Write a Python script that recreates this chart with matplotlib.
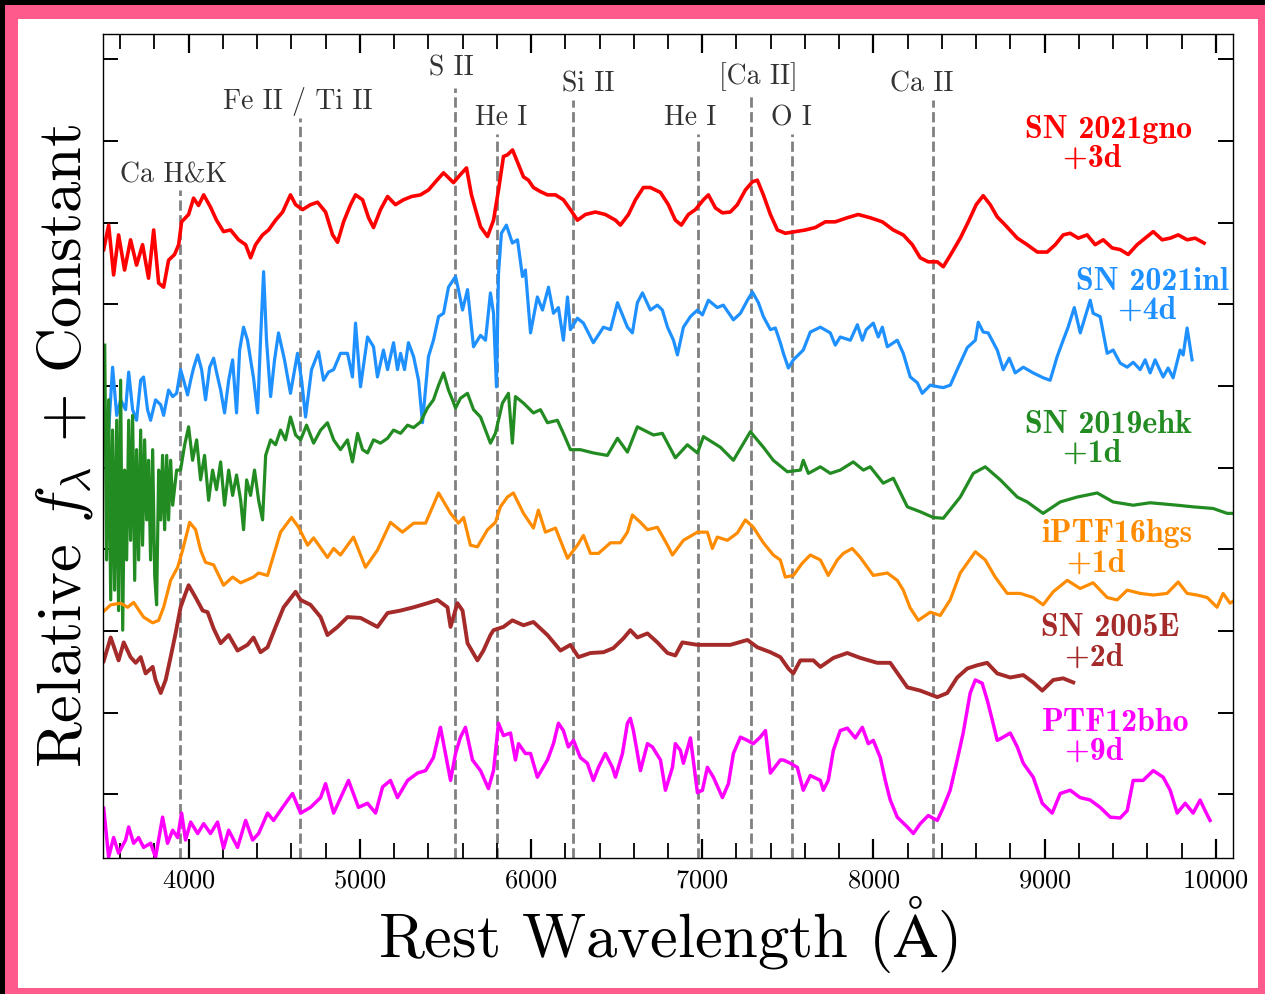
import numpy as np
import matplotlib.pyplot as plt
from matplotlib.patches import Rectangle

plt.rcParams['font.family'] = 'cmr10'
plt.rcParams['mathtext.fontset'] = 'cm'
plt.rcParams['axes.formatter.use_mathtext'] = True
plt.rcParams['axes.unicode_minus'] = False

# --- spectra (rest wavelength in Angstrom, relative flux + constant) ---
gno_wave = [3504, 3533, 3562, 3591, 3626, 3661, 3696, 3731, 3766, 3796, 3825, 3854, 3883, 3918, 3942,
            3959, 4000, 4029, 4058, 4088, 4128, 4163, 4204, 4245, 4292, 4333, 4362, 4391, 4432, 4467,
            4508, 4549, 4595, 4625, 4666, 4712, 4753, 4800, 4841, 4870, 4905, 4946, 4975, 5016, 5051,
            5080, 5121, 5162, 5208, 5255, 5302, 5354, 5401, 5442, 5489, 5518, 5547, 5588, 5623, 5652,
            5676, 5705, 5746, 5781, 5810, 5839, 5862, 5892, 5921, 5956, 5985, 6014, 6055, 6096, 6143,
            6189, 6230, 6271, 6318, 6376, 6434, 6493, 6522, 6569, 6610, 6656, 6697, 6756, 6802, 6843,
            6878, 6919, 6960, 7007, 7036, 7077, 7118, 7164, 7205, 7252, 7293, 7322, 7357, 7398, 7439,
            7485, 7544, 7602, 7660, 7719, 7777, 7847, 7911, 7981, 8052, 8116, 8174, 8227, 8273, 8320,
            8373, 8408, 8460, 8507, 8554, 8600, 8641, 8682, 8723, 8770, 8840, 8898, 8957, 9015, 9062,
            9108, 9149, 9196, 9248, 9295, 9342, 9394, 9441, 9488, 9540, 9587, 9634, 9686, 9733, 9780,
            9832, 9879, 9931]
gno_flux = [6.67, 6.97, 6.36, 6.85, 6.42, 6.79, 6.48, 6.73, 6.32, 6.91, 6.26, 6.21, 6.54, 6.61, 6.73,
            7.01, 7.10, 7.30, 7.21, 7.34, 7.19, 7.03, 6.89, 6.91, 6.79, 6.73, 6.57, 6.73, 6.85, 6.91,
            7.03, 7.13, 7.34, 7.22, 7.16, 7.22, 7.25, 7.13, 6.85, 6.76, 7.01, 7.22, 7.34, 7.28, 7.06,
            6.94, 7.16, 7.32, 7.22, 7.28, 7.32, 7.34, 7.40, 7.50, 7.61, 7.55, 7.49, 7.59, 7.67, 7.34,
            7.16, 6.95, 6.83, 7.03, 7.40, 7.81, 7.83, 7.89, 7.74, 7.56, 7.52, 7.43, 7.38, 7.34, 7.34,
            7.28, 7.16, 7.03, 7.10, 7.13, 7.10, 7.03, 6.97, 7.10, 7.28, 7.43, 7.43, 7.37, 7.22, 7.03,
            6.97, 7.10, 7.16, 7.28, 7.34, 7.18, 7.12, 7.13, 7.22, 7.40, 7.50, 7.52, 7.34, 7.10, 6.91,
            6.87, 6.89, 6.91, 6.94, 7.01, 7.01, 7.06, 7.10, 7.06, 7.01, 6.91, 6.85, 6.73, 6.57, 6.52,
            6.52, 6.46, 6.64, 6.81, 7.01, 7.22, 7.33, 7.22, 7.07, 6.97, 6.81, 6.73, 6.64, 6.64, 6.73,
            6.85, 6.87, 6.81, 6.85, 6.73, 6.79, 6.69, 6.67, 6.61, 6.73, 6.81, 6.89, 6.79, 6.81, 6.85,
            6.79, 6.81, 6.75]

inl_wave = [3533, 3556, 3580, 3603, 3632, 3650, 3673, 3696, 3720, 3737, 3760, 3778, 3807, 3837, 3854,
            3883, 3907, 3930, 3953, 3971, 3994, 4012, 4029, 4053, 4076, 4099, 4123, 4146, 4163, 4187,
            4210, 4234, 4257, 4280, 4298, 4321, 4344, 4362, 4379, 4403, 4420, 4438, 4455, 4479, 4502,
            4525, 4560, 4595, 4636, 4660, 4683, 4718, 4759, 4788, 4817, 4847, 4887, 4928, 4957, 4975,
            5004, 5045, 5080, 5103, 5138, 5162, 5197, 5220, 5238, 5261, 5284, 5314, 5343, 5366, 5401,
            5430, 5460, 5489, 5518, 5559, 5576, 5600, 5629, 5664, 5705, 5734, 5763, 5781, 5798, 5810,
            5827, 5856, 5891, 5921, 5950, 5967, 5997, 6037, 6067, 6102, 6131, 6160, 6189, 6213, 6230,
            6271, 6306, 6364, 6423, 6464, 6505, 6563, 6592, 6621, 6651, 6697, 6738, 6767, 6797, 6832,
            6855, 6890, 6931, 6972, 7001, 7036, 7088, 7123, 7182, 7223, 7264, 7293, 7328, 7357, 7398,
            7427, 7456, 7474, 7503, 7532, 7590, 7631, 7690, 7748, 7777, 7806, 7865, 7906, 7935, 7958,
            7999, 8028, 8052, 8081, 8139, 8174, 8215, 8256, 8285, 8332, 8378, 8408, 8449, 8489, 8548,
            8595, 8612, 8641, 8670, 8723, 8758, 8793, 8828, 8875, 8933, 8992, 9032, 9073, 9108, 9137,
            9173, 9208, 9266, 9283, 9324, 9365, 9400, 9441, 9482, 9517, 9558, 9587, 9616, 9645, 9692,
            9721, 9750, 9791, 9809, 9832, 9861]
inl_flux = [4.46, 5.23, 4.64, 4.83, 4.71, 5.17, 4.71, 4.58, 5.07, 5.11, 4.71, 4.58, 4.83, 4.77, 4.64,
            4.95, 4.87, 4.91, 5.20, 5.07, 4.89, 5.07, 5.22, 5.38, 5.20, 4.83, 5.23, 5.34, 5.17, 4.95,
            4.67, 5.07, 5.32, 4.67, 5.44, 5.72, 5.56, 5.32, 5.10, 4.67, 5.56, 6.40, 5.56, 4.87, 5.32,
            5.65, 5.32, 4.91, 5.40, 5.07, 4.62, 5.20, 5.42, 5.07, 5.17, 5.20, 5.40, 5.40, 5.11, 5.77,
            4.99, 5.60, 5.48, 5.11, 5.44, 5.20, 5.53, 5.20, 5.40, 5.20, 5.53, 5.36, 5.07, 4.55, 5.36,
            5.56, 5.85, 5.89, 6.21, 6.34, 6.18, 5.93, 6.18, 5.48, 5.62, 5.56, 6.14, 5.89, 4.99, 6.38,
            6.87, 6.97, 6.75, 6.79, 6.34, 6.42, 5.65, 6.09, 5.93, 6.21, 5.89, 5.96, 5.56, 6.09, 5.69,
            5.83, 5.77, 5.53, 5.72, 5.69, 6.02, 5.72, 5.65, 6.02, 6.14, 5.93, 5.99, 5.93, 5.72, 5.56,
            5.38, 5.72, 5.85, 5.93, 5.87, 6.05, 5.96, 5.99, 5.81, 5.89, 6.05, 6.15, 6.02, 5.85, 5.69,
            5.71, 5.53, 5.40, 5.22, 5.32, 5.44, 5.66, 5.72, 5.65, 5.50, 5.60, 5.56, 5.75, 5.56, 5.69,
            5.77, 5.60, 5.72, 5.48, 5.56, 5.40, 5.11, 5.04, 4.91, 5.01, 4.99, 4.98, 5.01, 5.20, 5.47,
            5.56, 5.78, 5.66, 5.65, 5.44, 5.20, 5.34, 5.16, 5.23, 5.16, 5.10, 5.07, 5.36, 5.56, 5.72,
            5.96, 5.65, 6.05, 5.89, 5.85, 5.40, 5.44, 5.28, 5.23, 5.29, 5.20, 5.32, 5.16, 5.32, 5.11,
            5.22, 5.10, 5.44, 5.38, 5.71, 5.32]

ehk_wave = [3510, 3521, 3533, 3545, 3556, 3568, 3580, 3591, 3603, 3615, 3626, 3638, 3650, 3661, 3673,
            3685, 3696, 3708, 3720, 3731, 3743, 3755, 3766, 3778, 3790, 3802, 3813, 3825, 3837, 3848,
            3860, 3872, 3883, 3895, 3907, 3930, 3953, 3977, 4000, 4023, 4047, 4070, 4093, 4117, 4140,
            4163, 4187, 4210, 4234, 4257, 4280, 4304, 4321, 4339, 4362, 4385, 4409, 4432, 4450, 4479,
            4508, 4537, 4566, 4595, 4625, 4654, 4689, 4730, 4771, 4811, 4847, 4887, 4928, 4957, 4987,
            5016, 5045, 5080, 5121, 5162, 5197, 5238, 5279, 5314, 5355, 5395, 5430, 5460, 5489, 5518,
            5541, 5559, 5588, 5629, 5664, 5705, 5734, 5763, 5792, 5833, 5868, 5891, 5909, 5956, 6014,
            6055, 6096, 6154, 6189, 6230, 6288, 6364, 6446, 6505, 6563, 6621, 6715, 6767, 6843, 6913,
            6972, 7007, 7106, 7182, 7281, 7357, 7415, 7497, 7573, 7590, 7620, 7690, 7748, 7806, 7882,
            7941, 7981, 8057, 8116, 8198, 8273, 8349, 8408, 8507, 8583, 8653, 8741, 8840, 8898, 8991,
            9091, 9190, 9307, 9400, 9517, 9616, 9774, 9867, 9984, 10066, 10118]
ehk_flux = [5.50, 2.87, 4.83, 2.38, 4.46, 2.50, 4.58, 2.25, 5.07, 2.01, 3.97, 2.87, 4.58, 3.11, 4.64,
            2.62, 4.22, 2.87, 4.46, 3.05, 4.34, 3.36, 4.09, 2.87, 4.22, 2.68, 2.32, 3.97, 3.36, 4.15,
            3.24, 4.15, 3.36, 4.09, 3.54, 3.97, 3.97, 4.28, 4.50, 4.09, 4.34, 3.85, 4.15, 3.60, 3.97,
            3.73, 4.07, 3.54, 3.97, 3.66, 3.91, 3.60, 3.24, 3.85, 3.66, 3.97, 3.60, 3.36, 4.15, 4.34,
            4.28, 4.46, 4.34, 4.62, 4.40, 4.34, 4.52, 4.30, 4.46, 4.55, 4.34, 4.22, 4.34, 4.07, 4.42,
            4.22, 4.18, 4.34, 4.30, 4.36, 4.46, 4.42, 4.52, 4.49, 4.56, 4.73, 4.83, 5.01, 5.16, 4.95,
            4.83, 4.73, 4.85, 4.91, 4.71, 4.62, 4.46, 4.30, 4.42, 4.79, 4.91, 4.30, 4.87, 4.79, 4.67,
            4.71, 4.55, 4.58, 4.42, 4.22, 4.22, 4.18, 4.15, 4.36, 4.19, 4.50, 4.40, 4.42, 4.12, 4.28,
            4.18, 4.38, 4.25, 4.09, 4.44, 4.25, 4.09, 3.95, 3.97, 4.09, 3.93, 4.01, 3.93, 3.97, 4.07,
            3.97, 4.01, 3.81, 3.87, 3.52, 3.46, 3.39, 3.38, 3.64, 3.93, 4.01, 3.85, 3.64, 3.58, 3.44,
            3.58, 3.64, 3.69, 3.58, 3.54, 3.57, 3.54, 3.52, 3.50, 3.44, 3.44]

hgs_wave = [3504, 3545, 3603, 3644, 3679, 3737, 3790, 3825, 3854, 3895, 3936, 3965, 4006, 4041, 4070,
            4099, 4146, 4204, 4257, 4304, 4379, 4409, 4461, 4537, 4601, 4642, 4695, 4730, 4811, 4847,
            4887, 4963, 5033, 5103, 5179, 5249, 5314, 5384, 5460, 5530, 5576, 5606, 5646, 5687, 5746,
            5792, 5821, 5862, 5897, 5956, 6014, 6043, 6084, 6143, 6213, 6271, 6306, 6347, 6394, 6464,
            6522, 6563, 6592, 6639, 6680, 6738, 6797, 6826, 6890, 6972, 7030, 7059, 7088, 7147, 7205,
            7252, 7298, 7357, 7415, 7456, 7485, 7532, 7584, 7631, 7690, 7736, 7789, 7824, 7876, 7923,
            7999, 8081, 8139, 8174, 8215, 8262, 8332, 8390, 8448, 8507, 8595, 8653, 8711, 8781, 8857,
            8933, 8991, 9050, 9132, 9207, 9283, 9365, 9423, 9482, 9558, 9634, 9715, 9780, 9832, 9890,
            9949, 10007, 10042, 10083, 10112]
hgs_flux = [2.24, 2.32, 2.34, 2.29, 2.35, 2.17, 2.10, 2.13, 2.29, 2.62, 2.78, 2.99, 3.33, 3.24, 2.99,
            2.84, 2.81, 2.56, 2.66, 2.59, 2.66, 2.71, 2.68, 3.21, 3.39, 3.27, 3.05, 3.14, 2.90, 3.01,
            2.93, 3.15, 2.78, 2.99, 3.33, 3.21, 3.32, 3.32, 3.69, 3.44, 3.32, 3.39, 3.05, 3.03, 3.24,
            3.33, 3.52, 3.64, 3.69, 3.44, 3.26, 3.48, 3.21, 3.26, 2.89, 3.05, 3.17, 2.95, 2.95, 3.08,
            3.08, 3.21, 3.42, 3.33, 3.24, 3.27, 3.05, 2.93, 3.11, 3.21, 3.21, 3.01, 3.15, 3.11, 3.20,
            3.36, 3.27, 3.08, 2.93, 2.87, 2.66, 2.68, 2.83, 2.93, 2.87, 2.68, 2.87, 2.95, 3.01, 2.90,
            2.68, 2.71, 2.62, 2.50, 2.28, 2.13, 2.23, 2.19, 2.38, 2.71, 2.97, 2.87, 2.66, 2.46, 2.46,
            2.41, 2.32, 2.48, 2.62, 2.52, 2.59, 2.41, 2.38, 2.50, 2.46, 2.44, 2.46, 2.60, 2.46, 2.44,
            2.41, 2.29, 2.46, 2.34, 2.38]

e05_wave = [3504, 3545, 3591, 3621, 3661, 3691, 3720, 3749, 3790, 3807, 3837, 3866, 3895, 3924, 3953,
            3982, 4000, 4041, 4082, 4111, 4146, 4187, 4234, 4286, 4344, 4379, 4420, 4461, 4508, 4555,
            4625, 4654, 4712, 4771, 4811, 4870, 4928, 5004, 5103, 5162, 5238, 5314, 5395, 5454, 5512,
            5530, 5570, 5600, 5629, 5687, 5722, 5763, 5781, 5839, 5891, 5956, 6014, 6096, 6172, 6230,
            6277, 6347, 6423, 6481, 6540, 6580, 6621, 6680, 6738, 6797, 6843, 6884, 6972, 7065, 7164,
            7264, 7322, 7398, 7456, 7503, 7532, 7573, 7649, 7690, 7766, 7847, 7923, 8022, 8098, 8198,
            8273, 8373, 8431, 8489, 8548, 8606, 8664, 8723, 8799, 8875, 8933, 8986, 9050, 9108, 9167]
e05_flux = [1.63, 1.92, 1.64, 1.86, 1.68, 1.61, 1.68, 1.48, 1.56, 1.40, 1.24, 1.40, 1.68, 1.97, 2.29,
            2.46, 2.56, 2.41, 2.25, 2.23, 2.03, 1.85, 1.95, 1.76, 1.83, 1.92, 1.74, 1.80, 2.05, 2.29,
            2.48, 2.38, 2.32, 2.17, 1.95, 2.05, 2.17, 2.16, 2.05, 2.22, 2.25, 2.29, 2.34, 2.38, 2.29,
            2.05, 2.34, 2.25, 1.85, 1.64, 1.76, 1.95, 2.01, 2.05, 2.13, 2.07, 2.11, 1.95, 1.76, 1.83,
            1.68, 1.73, 1.74, 1.79, 1.91, 2.01, 1.92, 1.97, 1.86, 1.73, 1.70, 1.86, 1.83, 1.83, 1.83,
            1.89, 1.80, 1.74, 1.68, 1.54, 1.48, 1.64, 1.64, 1.56, 1.67, 1.73, 1.67, 1.61, 1.61, 1.31,
            1.27, 1.19, 1.24, 1.43, 1.54, 1.58, 1.61, 1.48, 1.43, 1.46, 1.37, 1.27, 1.40, 1.42, 1.37]

bho_wave = [3504, 3533, 3562, 3591, 3632, 3650, 3679, 3708, 3737, 3778, 3807, 3848, 3877, 3907, 3936,
            3959, 3982, 4012, 4053, 4088, 4128, 4169, 4204, 4234, 4286, 4333, 4374, 4409, 4461, 4496,
            4549, 4607, 4654, 4712, 4771, 4800, 4847, 4934, 4992, 5045, 5092, 5133, 5179, 5220, 5279,
            5337, 5384, 5430, 5471, 5500, 5530, 5559, 5588, 5617, 5658, 5705, 5751, 5781, 5810, 5839,
            5880, 5909, 5927, 5967, 5997, 6037, 6096, 6131, 6160, 6189, 6218, 6248, 6288, 6329, 6364,
            6394, 6434, 6475, 6493, 6534, 6563, 6580, 6598, 6639, 6680, 6709, 6756, 6785, 6826, 6843,
            6872, 6890, 6931, 6972, 7001, 7030, 7065, 7118, 7153, 7182, 7223, 7264, 7298, 7339, 7369,
            7398, 7456, 7474, 7515, 7555, 7590, 7631, 7690, 7707, 7736, 7766, 7806, 7847, 7894, 7935,
            7970, 7999, 8040, 8069, 8098, 8139, 8198, 8233, 8273, 8320, 8373, 8408, 8448, 8489, 8524,
            8565, 8595, 8635, 8665, 8694, 8723, 8758, 8799, 8840, 8875, 8933, 8986, 9044, 9091, 9149,
            9207, 9266, 9324, 9383, 9441, 9482, 9517, 9575, 9634, 9692, 9733, 9774, 9821, 9867, 9908,
            9937, 9966]
bho_flux = [-0.17, -0.77, -0.53, -0.72, -0.56, -0.40, -0.60, -0.53, -0.65, -0.60, -0.77, -0.28, -0.60, -0.44, -0.53,
            -0.23, -0.56, -0.34, -0.48, -0.36, -0.48, -0.34, -0.66, -0.44, -0.65, -0.32, -0.56, -0.48, -0.23, -0.32,
            -0.16, 0.01, -0.23, -0.16, -0.04, 0.13, -0.23, 0.17, -0.16, -0.11, -0.23, 0.09, 0.17, -0.04, 0.17,
            0.26, 0.29, 0.45, 0.82, 0.50, 0.17, 0.50, 0.70, 0.82, 0.42, 0.29, 0.07, 0.29, 0.87, 0.72,
            0.75, 0.42, 0.62, 0.50, 0.50, 0.21, 0.42, 0.62, 0.87, 0.78, 0.58, 0.66, 0.45, 0.38, 0.17,
            0.33, 0.50, 0.33, 0.21, 0.50, 0.87, 0.93, 0.78, 0.29, 0.62, 0.58, 0.42, 0.05, 0.33, 0.62,
            0.54, 0.38, 0.69, 0.02, 0.05, 0.33, 0.21, -0.04, 0.13, 0.50, 0.70, 0.66, 0.62, 0.70, 0.78,
            0.26, 0.42, 0.42, 0.38, 0.33, 0.05, 0.23, 0.17, 0.05, 0.17, 0.54, 0.78, 0.81, 0.69, 0.82,
            0.62, 0.66, 0.45, 0.17, -0.07, -0.28, -0.40, -0.48, -0.36, -0.26, -0.32, -0.16, 0.05, 0.42, 0.75,
            1.24, 1.40, 1.36, 1.15, 0.91, 0.66, 0.70, 0.75, 0.58, 0.38, 0.21, -0.11, -0.23, 0.01, 0.05,
            -0.04, -0.07, -0.16, -0.28, -0.29, -0.20, 0.17, 0.17, 0.29, 0.21, 0.05, -0.23, -0.11, -0.23, -0.07,
            -0.20, -0.32]

names = ['SN 2021gno', 'SN 2021inl', 'SN 2019ehk', 'iPTF16hgs', 'SN 2005E', 'PTF12bho']
phases = ['+3d', '+4d', '+1d', '+1d', '+2d', '+9d']
waves = [gno_wave, inl_wave, ehk_wave, hgs_wave, e05_wave, bho_wave]
fluxes = [gno_flux, inl_flux, ehk_flux, hgs_flux, e05_flux, bho_flux]
colors = ['red', 'dodgerblue', 'forestgreen', 'darkorange', 'brown', 'magenta']
widths = [2.6, 2.3, 2.3, 2.3, 2.8, 2.5]

# line identifications
line_names = ['Ca H&K', 'Fe II / Ti II', 'S II', 'He I', 'Si II', 'He I', '[Ca II]', 'O I', 'Ca II']
line_waves = [3950, 4650, 5555, 5800, 6245, 6975, 7285, 7525, 8350]

# label placement (baseline of the phase line; phase nudged left with trailing spaces)
name_x = [9371, 9628, 9371, 9423, 9382, 9412]
label_y = [7.68, 5.82, 4.07, 2.73, 1.58, 0.42]
phase_pad = [3, 1, 3, 4, 3, 4]
lid_x = [3915, 4636, 5535, 5827, 6335, 6931, 7328, 7520, 8285]
lid_y = [7.49, 8.39, 8.80, 8.19, 8.60, 8.19, 8.70, 8.19, 8.60]
lid_top = [7.40, 8.28, 8.65, 8.08, 8.50, 8.08, 8.57, 8.08, 8.50]

fig = plt.figure(figsize=(12.65, 9.94), dpi=100)
fig.set_facecolor('#ff5a8c')
W, H = 1265.0, 994.0
# picture frame: black strip, pink border, white card
fig.patches.append(Rectangle((18 / W, 1 - 988 / H), (1258 - 18) / W, (988 - 19) / H,
                             transform=fig.transFigure, facecolor='white', edgecolor='none', zorder=-10))
fig.patches.append(Rectangle((0, 0), 5 / W, 1, transform=fig.transFigure,
                             facecolor='black', edgecolor='none', zorder=-10))
fig.patches.append(Rectangle((0, 1 - 5 / H), 1, 5 / H, transform=fig.transFigure,
                             facecolor='black', edgecolor='none', zorder=-10))

ax = fig.add_axes([103 / W, 1 - 858 / H, (1233 - 103) / W, (858 - 34) / H])
ax.set_zorder(1)

ymin, ymax = -0.78, 9.31
for lw_, top, xl, yl, nm in zip(line_waves, lid_top, lid_x, lid_y, line_names):
    ax.vlines(lw_, ymin, top, colors='grey', linestyles='--', linewidth=2.0, zorder=1)
    ax.text(xl, yl, nm, fontsize=20, color='0.2', ha='center', va='baseline')

for w, f, c, lw in zip(waves, fluxes, colors, widths):
    ax.plot(w, f, color=c, lw=lw, zorder=2)

for nm, ph, c, nx, ny, pad in zip(names, phases, colors, name_x, label_y, phase_pad):
    ax.text(nx, ny, nm + '\n' + ph + ' ' * pad, fontsize=23, color=c, family='cmb10',
            ha='center', va='baseline', multialignment='center', linespacing=1.0)

ax.set_xlim(3500, 10100)
ax.set_ylim(ymin, ymax)
ax.set_xticks(np.arange(4000, 10001, 1000))
ax.set_xticks(np.arange(3600, 10100, 200), minor=True)
ax.set_yticks(np.arange(0, 10))
ax.set_yticklabels([])
ax.tick_params(axis='x', which='major', direction='in', top=True, length=14, width=1.6,
               labelsize=19, pad=8)
ax.tick_params(axis='x', which='minor', direction='in', top=True, length=10.5, width=1.3)
ax.tick_params(axis='y', which='major', direction='in', right=True, length=11, width=1.4)
for sp in ax.spines.values():
    sp.set_linewidth(1.0)

ax.set_xlabel(r'Rest Wavelength ($\mathrm{\AA}$)', fontsize=45, labelpad=1)
ax.set_ylabel(r'Relative $f_\lambda$ + Constant', fontsize=45, labelpad=2)

fig.savefig('out.png', dpi=100, facecolor=fig.get_facecolor())
